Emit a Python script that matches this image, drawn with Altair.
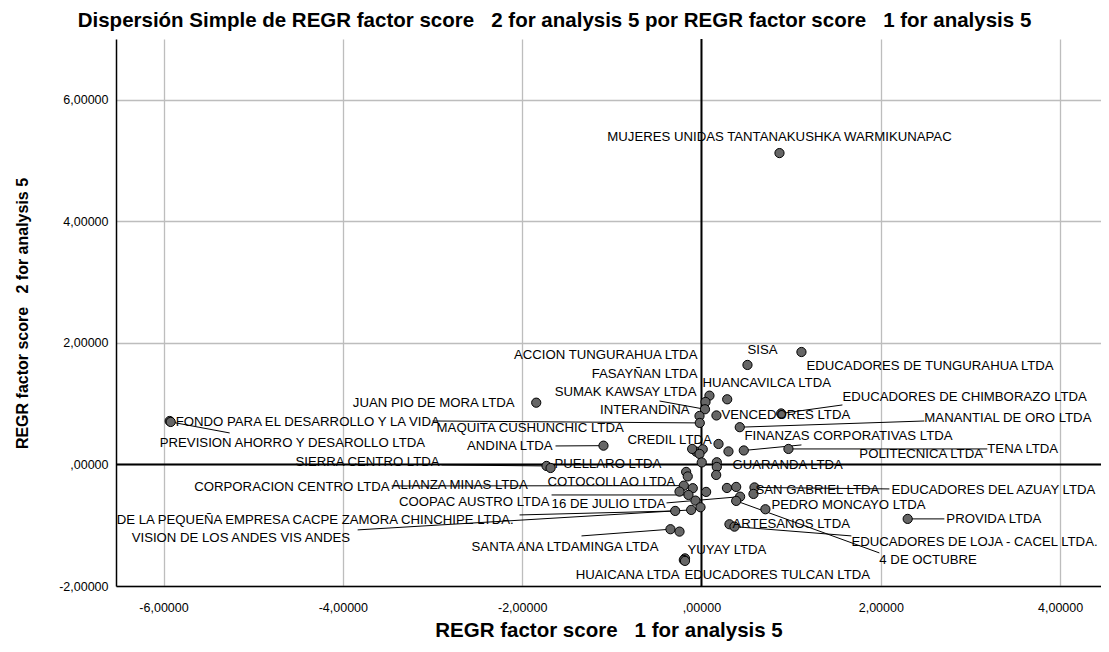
import altair as alt
import pandas as pd

FONT = "Liberation Sans, Arial, sans-serif"

# ---- labelled cases ----
names = [
    "MUJERES UNIDAS TANTANAKUSHKA WARMIKUNAPAC", "SISA", "EDUCADORES DE TUNGURAHUA LTDA",
    "ACCION TUNGURAHUA LTDA", "FASAYÑAN LTDA", "HUANCAVILCA LTDA", "SUMAK KAWSAY LTDA",
    "INTERANDINA", "VENCEDORES LTDA", "EDUCADORES DE CHIMBORAZO LTDA", "MAQUITA CUSHUNCHIC LTDA",
    "MANANTIAL DE ORO LTDA", "POLITECNICA LTDA", "FINANZAS CORPORATIVAS LTDA", "TENA LTDA",
    "CREDIL LTDA", "GUARANDA LTDA", "CORPORACION CENTRO LTDA", "COTOCOLLAO LTDA",
    "ALIANZA MINAS LTDA", "COOPAC AUSTRO LTDA", "EDUCADORES DEL AZUAY LTDA", "SAN GABRIEL LTDA",
    "16 DE JULIO LTDA", "4 DE OCTUBRE", "DE LA PEQUEÑA EMPRESA CACPE ZAMORA CHINCHIPE LTDA.",
    "VISION DE LOS ANDES VIS ANDES", "PEDRO MONCAYO LTDA", "SANTA ANA LTDA", "MINGA LTDA",
    "ARTESANOS LTDA", "EDUCADORES DE LOJA - CACEL LTDA.", "YUYAY LTDA", "HUAICANA LTDA",
    "EDUCADORES TULCAN LTDA", "JUAN PIO DE MORA LTDA", "FONDO PARA EL DESARROLLO Y LA VIDA",
    "PREVISION AHORRO Y DESAROLLO LTDA", "ANDINA LTDA", "SIERRA CENTRO LTDA", "PUELLARO LTDA",
    "PROVIDA LTDA",
]
score1 = [
    0.870, 0.513, 1.115, 0.089, 0.045, 0.287, 0.039, -0.022, 0.167, 0.889, -0.019,
    0.427, 0.301, 0.472, 0.970, -0.059, 0.171, -0.197, -0.097, -0.245, -0.145, 0.591,
    0.580, 0.431, 0.387, -0.293, -0.115, 0.713, -0.346, -0.245, 0.312, 0.368, -0.184,
    -0.197, -0.184, -1.843, -5.931, -5.920, -1.093, -1.728, -1.683, 2.300,
]
score2 = [
    5.123, 1.637, 1.850, 1.132, 1.028, 1.072, 0.908, 0.798, 0.806, 0.839, 0.683,
    0.613, 0.214, 0.230, 0.255, 0.211, 0.036, -0.349, -0.391, -0.447, -0.502, -0.378,
    -0.485, -0.530, -0.600, -0.765, -0.748, -0.737, -1.066, -1.105, -0.984, -1.023, -1.546,
    -1.571, -1.587, 1.016, 0.715, 0.699, 0.309, -0.025, -0.058, -0.896,
]
# label anchor (in data units) and alignment
label_x = [
    0.870, 0.513, 1.171, -0.045, -0.045, 0.011, -0.056, -0.134, 0.223, 1.572, -2.954,
    2.486, 1.761, 0.479, 3.188, -0.825, 0.346, -3.478, -1.717, -3.456, -1.695, 2.118,
    0.602, -1.672, 1.984, -6.522, -6.355, 0.780, -1.360, -1.360, 0.346, 1.672, -0.156,
    -0.245, -0.190, -2.085, -5.864, -6.042, -1.661, -2.921, -1.639, 2.731,
]
label_y = [
    5.387, 1.883, 1.620, 1.801, 1.488, 1.340, 1.197, 0.896, 0.814, 1.110, 0.600,
    0.765, 0.173, 0.469, 0.255, 0.403, -0.008, -0.365, -0.288, -0.337, -0.617, -0.419,
    -0.419, -0.650, -1.571, -0.913, -1.209, -0.666, -1.357, -1.357, -0.979, -1.275, -1.406,
    -1.817, -1.817, 1.012, 0.704, 0.354, 0.304, 0.041, 0.008, -0.896,
]
label_align = [
    "center", "left", "left", "right", "right", "left", "right", "right", "left", "left", "left",
    "left", "left", "left", "left", "left", "left", "right", "left", "left", "right", "left",
    "left", "left", "left", "left", "left", "left", "right", "left", "left", "left", "left",
    "right", "left", "right", "left", "left", "right", "right", "left", "left",
]
# leader line end (data units), None = no leader
leader_x = [
    None, None, None, None, None, None, -0.468, None, None, 1.572, -2.999,
    2.486, None, 1.115, 3.188, None, None, -3.456, None, None, -1.672, 2.096,
    None, -0.390, 1.984, -2.029, -3.835, None, -1.338, None, None, 1.672, None,
    None, None, None, None, -5.262, -1.628, -2.899, None, 2.709,
]
leader_y = [
    None, None, None, None, None, None, 1.044, None, None, 0.979, 0.715,
    0.715, None, 0.321, 0.255, None, None, -0.354, None, None, -0.502, -0.403,
    None, -0.633, -1.456, -0.831, -1.077, None, -1.176, None, None, -1.176, None,
    None, None, None, None, 0.518, 0.304, -0.008, None, -0.896,
]

# ---- cases whose labels are hidden by overlap ----
other_x = [0.190, -0.104, 0.014, -0.022, 0.003, 0.171, 0.164, -0.171, -0.153,
           0.052, 0.284, 0.387, -0.067, -0.011]
other_y = [0.337, 0.255, 0.250, 0.173, 0.033, -0.041, -0.173, -0.123, -0.197,
           -0.452, -0.387, -0.370, -0.595, -0.704]

x_ticks = [-6, -4, -2, 0, 2, 4]
y_ticks = [-2, 0, 2, 4, 6]

lab = pd.DataFrame({"name": names, "x": score1, "y": score2, "lx": label_x,
                    "ly": label_y, "al": label_align, "ex": leader_x, "ey": leader_y})
pts = pd.DataFrame({"x": score1 + other_x, "y": score2 + other_y})
lead = lab.dropna(subset=["ex"])

xs = alt.Scale(domain=[-6.53, 4.456], nice=False, zero=False)
ys = alt.Scale(domain=[-2, 7], nice=False, zero=False)

lbl_expr = ("datum.value == 0 ? ',00000' : "
            "replace(replace(format(datum.value, '.5f'), '.', ','), '\u2212', '-')")

X_TITLE = "REGR factor score \u00a0 1 for analysis 5"
Y_TITLE = "REGR factor score \u00a0 2 for analysis 5"

x_axis = alt.Axis(values=x_ticks, labelExpr=lbl_expr, title=X_TITLE,
                  grid=True, gridColor="#bdbdbd", gridWidth=1.3, ticks=False, tickSize=0,
                  domainColor="black", domainWidth=1.5, labelFont=FONT, labelFontSize=12.5,
                  labelColor="black", labelPadding=15, titleFont=FONT, titleFontSize=20.5,
                  titleFontWeight="bold", titleColor="black", titleY=44, titleBaseline="middle")
y_axis = alt.Axis(values=y_ticks, labelExpr=lbl_expr, title=Y_TITLE,
                  grid=True, gridColor="#bdbdbd", gridWidth=1.3, ticks=False, tickSize=0,
                  domainColor="black", domainWidth=1.5, labelFont=FONT, labelFontSize=12.5,
                  labelColor="black", labelPadding=8, titleFont=FONT, titleFontSize=16,
                  titleFontWeight="bold", titleColor="black", titleX=-94, titleY=274,
                  titleAngle=270, titleAlign="center", titleBaseline="middle")

X = lambda f: alt.X(f, scale=xs, axis=x_axis)
Y = lambda f: alt.Y(f, scale=ys, axis=y_axis)

zx = alt.Chart(pd.DataFrame({"v": [0]})).mark_rule(color="black", strokeWidth=2).encode(
    x=X("v:Q"))
zy = alt.Chart(pd.DataFrame({"v": [0]})).mark_rule(color="black", strokeWidth=2).encode(
    y=Y("v:Q"))

leaders = alt.Chart(lead).mark_rule(color="black", strokeWidth=1).encode(
    x=X("x:Q"), y=Y("y:Q"), x2="ex:Q", y2="ey:Q")

dots = alt.Chart(pts).mark_circle(size=85, color="#666666", stroke="black",
                                  strokeWidth=1, opacity=1).encode(
    x=X("x:Q"), y=Y("y:Q"))

def texts(al):
    return alt.Chart(lab).transform_filter(alt.datum.al == al).mark_text(
        align=al, baseline="middle", font=FONT, fontSize=13.2, color="black").encode(
        x=X("lx:Q"), y=Y("ly:Q"), text="name:N")

chart = alt.layer(zx, zy, leaders, dots, texts("left"), texts("right"), texts("center")).properties(
    width=985, height=547, background="white",
    title=alt.TitleParams(
        text="Dispersión Simple de REGR factor score \u00a0 2 for analysis 5 por REGR factor score \u00a0 1 for analysis 5",
        font=FONT, fontSize=20.5, fontWeight="bold", color="black", anchor="middle",
        frame="group", dx=-54, offset=7),
    autosize=alt.AutoSizeParams(type="none"),
    padding={"left": 108, "top": 31, "right": 0, "bottom": 56},
).configure_view(stroke=None)

chart.save("out.html", embed_options={"renderer": "svg", "actions": False})
